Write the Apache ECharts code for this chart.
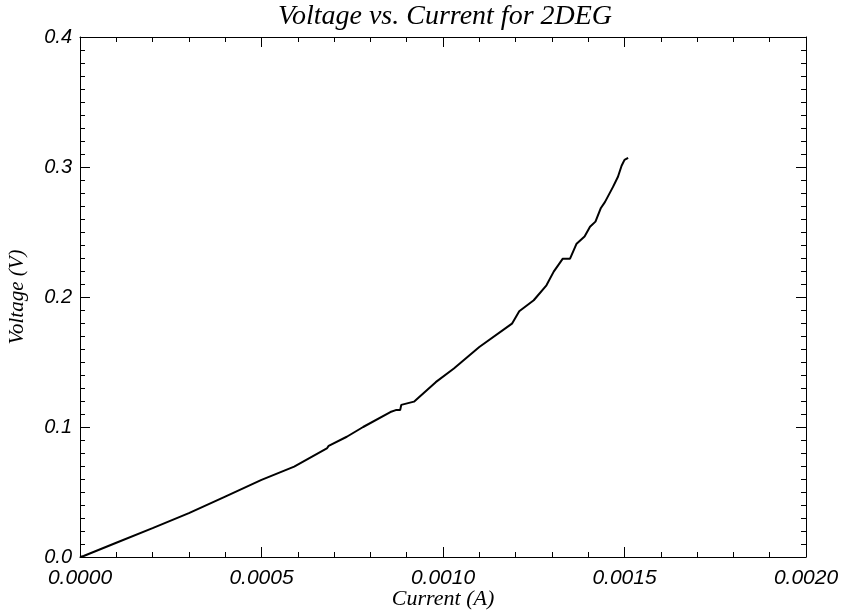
<!DOCTYPE html>
<html>
<head>
<meta charset="utf-8">
<script src="https://cdn.jsdelivr.net/npm/echarts@6/dist/echarts.min.js"></script>
<style>
  html, body { margin: 0; padding: 0; background: #fff; }
  #chart { width: 844px; height: 615px; }
</style>
</head>
<body>
<div id="chart"></div>
<script>
// current (A) and voltage (V)
var current = [0, 0.00001, 0.0001, 0.0002, 0.0003, 0.0004, 0.0005, 0.00059, 0.00068, 0.000685,
  0.000735, 0.00078, 0.000855, 0.00087, 0.000882, 0.000885, 0.00092, 0.00098, 0.00103, 0.0011,
  0.00119, 0.00121, 0.00125, 0.001285, 0.001305, 0.00132, 0.00133, 0.00135, 0.001368, 0.00139,
  0.001405, 0.00142, 0.001435, 0.001446, 0.001468, 0.001482, 0.001492, 0.0015, 0.00151];
var voltage = [0, 0.0008, 0.011, 0.0222, 0.0337, 0.0465, 0.0593, 0.0695, 0.0835, 0.0855,
  0.0925, 0.1, 0.1115, 0.113, 0.113, 0.117, 0.1195, 0.1345, 0.145, 0.1615,
  0.1795, 0.189, 0.1975, 0.209, 0.2195, 0.2255, 0.2295, 0.2295, 0.241, 0.2465,
  0.254, 0.258, 0.2685, 0.273, 0.2845, 0.2925, 0.301, 0.3055, 0.307];

var xTicks = ['0.0000', '0.0005', '0.0010', '0.0015', '0.0020'];
var yTicks = ['0.0', '0.1', '0.2', '0.3', '0.4'];

var points = current.map(function (c, i) { return [c, voltage[i]]; });

var serif = '"Liberation Serif", "DejaVu Serif", serif';
var sans = '"Liberation Sans", "DejaVu Sans", sans-serif';

var chart = echarts.init(document.getElementById('chart'));

function xAxis(pos, labels) {
  return {
    type: 'value', position: pos, min: 0, max: 0.002, interval: 0.0005,
    axisLine: { show: true, onZero: false, lineStyle: { color: '#000', width: 1 } },
    axisTick: { show: true, inside: true, length: 10, lineStyle: { color: '#000' } },
    minorTick: { show: true, splitNumber: 5, length: 5, lineStyle: { color: '#000' } },
    splitLine: { show: false },
    axisLabel: {
      show: labels, margin: 11, color: '#000', fontFamily: sans, fontStyle: 'italic', fontSize: 21,
      formatter: function (v) { return xTicks[Math.round(v / 0.0005)]; }
    },
    name: labels ? 'Current (A)' : '', nameLocation: 'middle', nameGap: 31, nameMoveOverlap: false,
    nameTextStyle: { color: '#000', fontFamily: serif, fontStyle: 'italic', fontSize: 22 }
  };
}

function yAxis(pos, labels) {
  return {
    type: 'value', position: pos, min: 0, max: 0.4, interval: 0.1,
    axisLine: { show: true, onZero: false, lineStyle: { color: '#000', width: 1 } },
    axisTick: { show: true, inside: true, length: 10, lineStyle: { color: '#000' } },
    minorTick: { show: true, splitNumber: 10, length: 5, lineStyle: { color: '#000' } },
    splitLine: { show: false },
    axisLabel: {
      show: labels, margin: 8, color: '#000', fontFamily: sans, fontStyle: 'italic', fontSize: 20,
      formatter: function (v) { return yTicks[Math.round(v / 0.1)]; }
    },
    name: labels ? 'Voltage (V)' : '', nameLocation: 'middle', nameGap: 52,
    nameTextStyle: { color: '#000', fontFamily: serif, fontStyle: 'italic', fontSize: 21 }
  };
}

var option = {
  backgroundColor: '#fff',
  animation: false,
  title: {
    text: 'Voltage vs. Current for 2DEG',
    left: 440, top: -2, textAlign: 'center',
    textStyle: { color: '#000', fontFamily: serif, fontStyle: 'italic', fontWeight: 'normal', fontSize: 28 }
  },
  grid: { left: 80, right: 38, top: 37, bottom: 58, outerBoundsMode: 'none', containLabel: false },
  xAxis: [xAxis('bottom', true), xAxis('top', false)],
  yAxis: [yAxis('left', true), yAxis('right', false)],
  series: [{
    type: 'line',
    data: points,
    showSymbol: false,
    lineStyle: { color: '#000', width: 2 }
  }]
};

chart.setOption(option);
</script>
</body>
</html>
